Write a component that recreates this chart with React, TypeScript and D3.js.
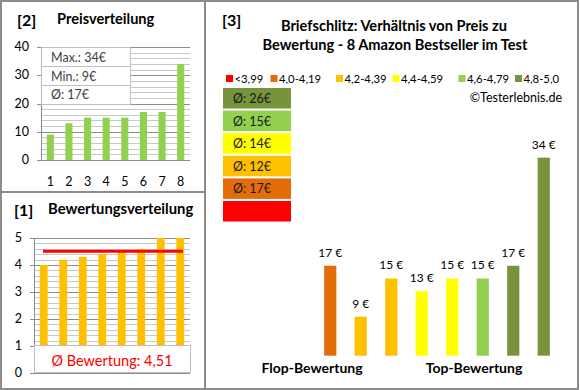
import React, { useRef, useEffect } from 'react';
import * as d3 from 'd3';

// Preisverteilung (sorted by price)
const priceRanks = ['1', '2', '3', '4', '5', '6', '7', '8'];
const sortedPrices = [9, 13, 15, 15, 15, 17, 17, 34];
const priceTicks = [0, 10, 20, 30, 40];
const statsLines = ['Max.: 34€', 'Min.: 9€', 'Ø: 17€'];

// Bewertungsverteilung (sorted by rating)
const ratings = [4.0, 4.2, 4.3, 4.4, 4.5, 4.6, 5.0, 5.0];
const ratingTicks = [0, 1, 2, 3, 4, 5];
const avgRating = 4.51;
const avgRatingLabel = 'Ø Bewertung: 4,51';

// Preis zu Bewertung (products ordered flop -> top)
const productPrices = [17, 9, 15, 13, 15, 15, 17, 34];
const classLabels = ['<3,99', '4,0-4,19', '4,2-4,39', '4,4-4,59', '4,6-4,79', '4,8-5,0'];
const classLimits = [4.0, 4.2, 4.4, 4.6, 4.8];
const classColors = ['#FF0000', '#E46C0A', '#FFC000', '#FFFF00', '#92D050', '#77933C'];
const classAverages = ['', 'Ø: 17€', 'Ø: 12€', 'Ø: 14€', 'Ø: 15€', 'Ø: 26€'];

const FONT = 'Lato, "Open Sans", sans-serif';

function App() {
  const svgRef = useRef(null);

  useEffect(() => {
    const svg = d3.select(svgRef.current);
    svg.selectAll('*').remove();

    svg.append('rect').attr('width', 580).attr('height', 390).attr('fill', '#fff');

    // Rahmen
    const frame = svg.append('g').attr('fill', 'none').attr('stroke', '#8c8c8c').attr('stroke-width', 2);
    frame.append('rect').attr('x', 1).attr('y', 1).attr('width', 577).attr('height', 388);
    frame.append('line').attr('x1', 205).attr('x2', 205).attr('y1', 1).attr('y2', 389);
    frame.append('line').attr('x1', 1).attr('x2', 205).attr('y1', 192).attr('y2', 192);

    const rankOf = d3.scaleThreshold().domain(classLimits).range([0, 1, 2, 3, 4, 5]);

    // ---------- [2] Preisverteilung ----------
    const g1 = svg.append('g');
    g1.append('text').attr('x', 17).attr('y', 26).attr('font-size', 16).attr('font-weight', 'bold').text('[2]');
    g1.append('text').attr('x', 57).attr('y', 24).attr('font-size', 14.6).attr('font-weight', 'bold').text('Preisverteilung');

    const x1 = d3.scaleBand().domain(priceRanks).range([41, 190]).paddingInner(0.62).paddingOuter(0.31);
    const y1 = d3.scaleLinear().domain([0, 40]).range([160, 47]);

    const minor1 = d3.range(0, 40.1, 2);
    g1.selectAll('.grid')
      .data(minor1)
      .enter()
      .append('line')
      .attr('x1', (d) => (d % 10 === 0 ? 37 : 41))
      .attr('x2', 190)
      .attr('y1', (d) => Math.round(y1(d)) + 0.5)
      .attr('y2', (d) => Math.round(y1(d)) + 0.5)
      .attr('stroke', (d) => (d % 10 === 0 ? '#8c8c8c' : '#c8c8c8'));
    g1.append('line').attr('x1', 41.5).attr('x2', 41.5).attr('y1', y1(40)).attr('y2', y1(0)).attr('stroke', '#8c8c8c');

    g1.selectAll('.bar')
      .data(sortedPrices)
      .enter()
      .append('rect')
      .attr('x', (d, i) => x1(priceRanks[i]))
      .attr('width', x1.bandwidth())
      .attr('y', (d) => y1(d))
      .attr('height', (d) => y1(0) - y1(d))
      .attr('fill', '#92D050');

    g1.selectAll('.yl')
      .data(priceTicks)
      .enter()
      .append('text')
      .attr('x', 29)
      .attr('y', (d) => y1(d) + 4)
      .attr('text-anchor', 'end')
      .attr('font-size', 12.5)
      .text((d) => d);

    g1.selectAll('.xl')
      .data(priceRanks)
      .enter()
      .append('text')
      .attr('x', (d) => x1(d) + x1.bandwidth() / 2)
      .attr('y', 186)
      .attr('text-anchor', 'middle')
      .attr('font-size', 12.5)
      .text((d) => d);

    // Statistik-Box
    const stats = g1.append('g');
    stats.append('rect').attr('x', 41.5).attr('y', 47.5).attr('width', 89).attr('height', 57)
      .attr('fill', '#fff').attr('stroke', '#bfbfbf');
    stats.selectAll('.sep')
      .data([1, 2])
      .enter()
      .append('line')
      .attr('x1', 41.5).attr('x2', 130.5)
      .attr('y1', (d) => 47.5 + d * 19).attr('y2', (d) => 47.5 + d * 19)
      .attr('stroke', '#bfbfbf');
    stats.selectAll('.st')
      .data(statsLines)
      .enter()
      .append('text')
      .attr('x', 51)
      .attr('y', (d, i) => 62 + i * 18.5)
      .attr('font-size', 12.5)
      .attr('fill', '#404040')
      .text((d) => d);

    // ---------- [1] Bewertungsverteilung ----------
    const g2 = svg.append('g');
    g2.append('text').attr('x', 14).attr('y', 216).attr('font-size', 16).attr('font-weight', 'bold').text('[1]');
    g2.append('text').attr('x', 48).attr('y', 214).attr('font-size', 14.8).attr('font-weight', 'bold').text('Bewertungsverteilung');

    const x2 = d3.scaleBand().domain(d3.range(ratings.length)).range([34, 190]).paddingInner(0.6).paddingOuter(0.3);
    const y2 = d3.scaleLinear().domain([0, 5]).range([373, 238]);

    const minor2 = d3.range(0, 5.01, 0.2).map((d) => +d.toFixed(1));
    g2.selectAll('.grid')
      .data(minor2)
      .enter()
      .append('line')
      .attr('x1', (d) => (Number.isInteger(d) ? 30 : 34))
      .attr('x2', 190)
      .attr('y1', (d) => Math.round(y2(d)) + 0.5)
      .attr('y2', (d) => Math.round(y2(d)) + 0.5)
      .attr('stroke', (d) => (Number.isInteger(d) ? '#8c8c8c' : '#c8c8c8'));
    g2.append('line').attr('x1', 34.5).attr('x2', 34.5).attr('y1', y2(5)).attr('y2', y2(0)).attr('stroke', '#8c8c8c');

    g2.selectAll('.bar')
      .data(ratings)
      .enter()
      .append('rect')
      .attr('x', (d, i) => x2(i))
      .attr('width', x2.bandwidth())
      .attr('y', (d) => y2(d))
      .attr('height', (d) => y2(0) - y2(d))
      .attr('fill', '#FFC000');

    g2.append('line')
      .attr('x1', 43).attr('x2', 183)
      .attr('y1', y2(avgRating)).attr('y2', y2(avgRating))
      .attr('stroke', '#FF0000').attr('stroke-width', 3);

    g2.selectAll('.yl')
      .data(ratingTicks)
      .enter()
      .append('text')
      .attr('x', 22)
      .attr('y', (d) => y2(d) + 4)
      .attr('text-anchor', 'end')
      .attr('font-size', 12.5)
      .text((d) => d);

    g2.append('rect').attr('x', 34.5).attr('y', y2(1) - 0.5).attr('width', 156).attr('height', y2(0) - y2(1))
      .attr('fill', '#fff').attr('stroke', '#bfbfbf');
    g2.append('text')
      .attr('x', 112).attr('y', 366)
      .attr('text-anchor', 'middle')
      .attr('font-size', 14.5)
      .attr('fill', '#FF0000')
      .text(avgRatingLabel);

    // ---------- [3] Preis zu Bewertung ----------
    const g3 = svg.append('g');
    g3.append('text').attr('x', 222).attr('y', 26).attr('font-size', 16).attr('font-weight', 'bold').text('[3]');
    g3.append('text').attr('x', 394).attr('y', 31).attr('text-anchor', 'middle')
      .attr('font-size', 14.6).attr('font-weight', 'bold').text('Briefschlitz: Verhältnis von Preis zu');
    g3.append('text').attr('x', 395).attr('y', 50).attr('text-anchor', 'middle')
      .attr('font-size', 14.6).attr('font-weight', 'bold').text('Bewertung - 8 Amazon Bestseller im Test');

    const legendX = [226, 270.5, 336, 392.5, 458.5, 515];
    const leg = g3.selectAll('.leg').data(classLabels).enter().append('g')
      .attr('transform', (d, i) => `translate(${legendX[i]},75)`);
    leg.append('rect').attr('width', 7).attr('height', 7).attr('fill', (d, i) => classColors[i]);
    leg.append('text').attr('x', 8.5).attr('y', 7.5).attr('font-size', 11.3).text((d) => d);

    g3.append('text').attr('x', 562).attr('y', 102).attr('text-anchor', 'end')
      .attr('font-size', 12.5).text('©Testerlebnis.de');

    // Durchschnitts-Boxen (top: best class)
    const boxOrder = d3.range(classLabels.length).reverse();
    const boxes = g3.selectAll('.avg').data(boxOrder).enter().append('g')
      .attr('transform', (d, i) => `translate(223,${88 + i * 22.6})`);
    boxes.append('rect').attr('width', 68).attr('height', 20.5).attr('fill', (d) => classColors[d]);
    boxes.append('text').attr('x', 10).attr('y', 15).attr('font-size', 12.5).attr('fill', '#1a1a1a')
      .text((d) => classAverages[d]);

    const x3 = d3.scaleBand().domain(d3.range(productPrices.length)).range([315, 559]).paddingInner(0.6).paddingOuter(0.3);
    const y3 = d3.scaleLinear().domain([2.86, 35]).range([355.7, 151.3]);

    g3.selectAll('.bar')
      .data(productPrices)
      .enter()
      .append('rect')
      .attr('x', (d, i) => x3(i))
      .attr('width', x3.bandwidth())
      .attr('y', (d) => y3(d))
      .attr('height', (d) => y3(y3.domain()[0]) - y3(d))
      .attr('fill', (d, i) => classColors[rankOf(ratings[i])]);

    g3.selectAll('.val')
      .data(productPrices)
      .enter()
      .append('text')
      .attr('x', (d, i) => x3(i) + x3.bandwidth() / 2)
      .attr('y', (d) => y3(d) - 9)
      .attr('text-anchor', 'middle')
      .attr('font-size', 12)
      .text((d) => `${d} €`);

    g3.append('text').attr('x', 312).attr('y', 373).attr('text-anchor', 'middle')
      .attr('font-size', 14).attr('font-weight', 'bold').text('Flop-Bewertung');
    g3.append('text').attr('x', 474).attr('y', 373).attr('text-anchor', 'middle')
      .attr('font-size', 14).attr('font-weight', 'bold').text('Top-Bewertung');
  }, []);

  return (
    <svg
      ref={svgRef}
      width={580}
      height={390}
      style={{ position: 'absolute', left: 0, top: 0, fontFamily: FONT }}
    ></svg>
  );
}

export default App;
